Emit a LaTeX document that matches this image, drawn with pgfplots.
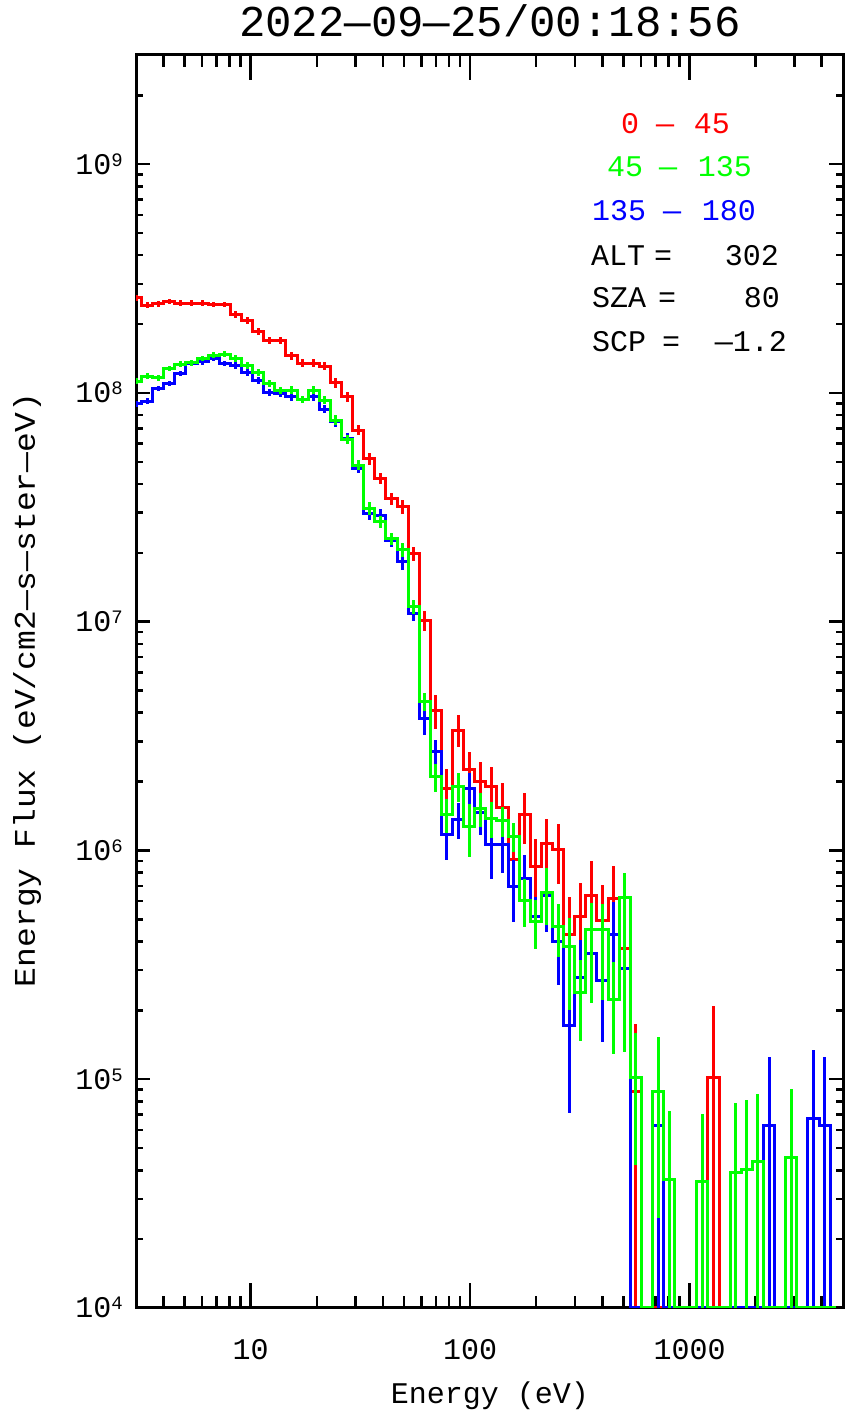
\documentclass[border=0pt]{standalone}
\usepackage{fontspec}
\usepackage{graphicx}
\usepackage{pgfplots}
\pgfplotsset{compat=1.18}
\usepackage{pgfplotstable}
\setmainfont{Liberation Sans}
\newfontfamily\idl{Liberation Mono}
\newcommand{\basefont}{\idl\fontsize{30}{36}\selectfont}
\newcommand{\titlefont}{\idl\fontsize{44}{50}\selectfont}
\newcommand{\ex}[1]{10\raisebox{8pt}{\fontsize{19}{19}\selectfont #1}}

% energy (eV), flux, error plus, error minus ; 0 counts drawn at the axis floor 1e4
\pgfplotstableread{
E F ep em
3.000 2.60e8 7.0e6 7.0e6
3.371 2.42e8 6.5e6 6.5e6
3.788 2.45e8 6.6e6 6.6e6
4.256 2.51e8 6.8e6 6.8e6
4.782 2.47e8 6.7e6 6.7e6
5.373 2.47e8 6.7e6 6.7e6
6.037 2.47e8 6.7e6 6.7e6
6.783 2.44e8 6.6e6 6.6e6
7.621 2.44e8 6.6e6 6.6e6
8.563 2.20e8 7.5e6 7.5e6
9.622 2.08e8 7.1e6 7.1e6
10.81 1.85e8 6.3e6 6.3e6
12.15 1.69e8 5.7e6 5.7e6
13.65 1.69e8 5.7e6 5.7e6
15.34 1.45e8 5.8e6 5.8e6
17.23 1.35e8 5.4e6 5.4e6
19.36 1.35e8 5.4e6 5.4e6
21.76 1.31e8 5.2e6 5.2e6
24.45 1.11e8 5.6e6 5.6e6
27.47 9.6e7 4.8e6 4.8e6
30.86 6.88e7 3.4e6 3.4e6
34.67 5.17e7 3.1e6 3.1e6
38.96 4.23e7 2.5e6 2.5e6
43.78 3.46e7 2.1e6 2.1e6
49.19 3.18e7 2.2e6 2.2e6
55.27 1.99e7 1.4e6 1.4e6
62.10 1.01e7 1.0e6 1.0e6
69.78 4.07e6 6.9e5 6.9e5
78.40 1.87e6 4.1e5 4.1e5
88.09 3.36e6 5.4e5 5.4e5
98.95 2.26e6 4.3e5 4.3e5
111.2 2.01e6 4.2e5 4.2e5
124.9 1.91e6 4.0e5 4.0e5
140.4 1.54e6 4.3e5 4.3e5
157.7 9.17e5 2.75e5 2.75e5
177.2 1.43e6 3.6e5 3.6e5
199.1 8.55e5 2.65e5 2.65e5
223.8 1.07e6 3.0e5 3.0e5
251.4 1.01e6 3.0e5 3.0e5
282.4 4.31e5 1.94e5 1.94e5
317.3 5.12e5 2.1e5 2.1e5
356.6 6.38e5 2.6e5 2.6e5
400.7 4.96e5 2.1e5 2.1e5
450.2 6.19e5 2.4e5 2.4e5
505.9 3.72e5 1.86e5 1.86e5
568.4 8.8e4 8.7e4 87990
638.7 1e4 0 0
717.7 1e4 0 0
806.5 1e4 0 0
906.2 1e4 0 0
1017.7 1e4 0 0
1143.5 1e4 0 0
1284.9 1.02e5 1.07e5 101990
1443.7 1e4 0 0
1622.2 1e4 0 0
1822.8 1e4 0 0
2048.0 1e4 0 0
2301.3 1e4 0 0
2585.2 1e4 0 0
2904.8 1e4 0 0
3263.9 1e4 0 0
3667.2 1e4 0 0
4120.6 1e4 0 0
4630.3 1e4 0 0
}\tabR

\pgfplotstableread{
E F ep em
3.000 1.126e8 3.4e6 3.4e6
3.371 1.184e8 3.6e6 3.6e6
3.788 1.164e8 3.5e6 3.5e6
4.256 1.279e8 3.8e6 3.8e6
4.782 1.336e8 4.0e6 4.0e6
5.373 1.354e8 4.1e6 4.1e6
6.037 1.415e8 4.2e6 4.2e6
6.783 1.463e8 4.4e6 4.4e6
7.621 1.478e8 4.4e6 4.4e6
8.563 1.415e8 5.0e6 5.0e6
9.622 1.323e8 4.6e6 4.6e6
10.81 1.224e8 4.3e6 4.3e6
12.15 1.10e8 3.9e6 3.9e6
13.65 1.028e8 3.6e6 3.6e6
15.34 1.028e8 4.1e6 4.1e6
17.23 9.36e7 3.7e6 3.7e6
19.36 1.028e8 4.1e6 4.1e6
21.76 9.3e7 3.7e6 3.7e6
24.45 7.61e7 3.8e6 3.8e6
27.47 6.26e7 3.1e6 3.1e6
30.86 4.84e7 2.4e6 2.4e6
34.67 3.13e7 1.9e6 1.9e6
38.96 2.73e7 1.6e6 1.6e6
43.78 2.31e7 1.4e6 1.4e6
49.19 2.06e7 1.4e6 1.4e6
55.27 1.16e7 8.1e5 8.1e5
62.10 4.47e6 4.0e5 4.0e5
69.78 2.10e6 2.9e5 2.9e5
78.40 1.43e6 2.4e5 2.4e5
88.09 1.90e6 2.7e5 2.7e5
98.95 1.27e6 3.3e5 3.3e5
111.2 1.53e6 2.6e5 2.6e5
124.9 1.38e6 2.5e5 2.5e5
140.4 1.35e6 2.0e5 2.0e5
157.7 1.15e6 1.7e5 1.7e5
177.2 6.07e5 1.46e5 1.46e5
199.1 4.88e5 1.17e5 1.17e5
223.8 6.53e5 1.83e5 1.83e5
251.4 4.64e5 1.21e5 1.21e5
282.4 3.79e5 1.26e5 1.78e5
317.3 2.39e5 9.2e4 9.2e4
356.6 4.52e5 1.36e5 2.37e5
400.7 4.52e5 1.3e5 2.3e5
450.2 2.22e5 1.04e5 9.3e4
505.9 6.21e5 1.78e5 4.9e5
568.4 1.02e5 5.8e4 6.0e4
638.7 1e4 0 0
717.7 8.82e4 6.4e4 6.35e4
806.5 3.65e4 3.6e4 36490
906.2 1e4 0 0
1017.7 1e4 0 0
1143.5 3.57e4 3.5e4 35690
1284.9 1e4 0 0
1443.7 1e4 0 0
1622.2 3.92e4 3.95e4 39190
1822.8 4.04e4 4.05e4 40390
2048.0 4.35e4 4.3e4 43490
2301.3 1e4 0 0
2585.2 1e4 0 0
2904.8 4.57e4 4.5e4 45690
3263.9 1e4 0 0
3667.2 1e4 0 0
4120.6 1e4 0 0
4630.3 1e4 0 0
}\tabG

\pgfplotstableread{
E F ep em
3.000 8.99e7 2.7e6 2.7e6
3.371 9.21e7 2.8e6 2.8e6
3.788 1.046e8 3.1e6 3.1e6
4.256 1.10e8 3.3e6 3.3e6
4.782 1.216e8 3.6e6 3.6e6
5.373 1.345e8 4.0e6 4.0e6
6.037 1.368e8 4.1e6 4.1e6
6.783 1.415e8 4.2e6 4.2e6
7.621 1.345e8 4.0e6 4.0e6
8.563 1.323e8 4.6e6 4.6e6
9.622 1.224e8 4.3e6 4.3e6
10.81 1.137e8 4.0e6 4.0e6
12.15 1.0e8 3.5e6 3.5e6
13.65 9.95e7 3.5e6 3.5e6
15.34 9.62e7 3.8e6 3.8e6
17.23 9.36e7 3.7e6 3.7e6
19.36 9.62e7 3.8e6 3.8e6
21.76 8.47e7 3.4e6 3.4e6
24.45 7.48e7 3.7e6 3.7e6
27.47 6.35e7 3.2e6 3.2e6
30.86 4.68e7 2.3e6 2.3e6
34.67 2.97e7 1.8e6 1.8e6
38.96 2.92e7 1.75e6 1.75e6
43.78 2.27e7 1.4e6 1.4e6
49.19 1.83e7 1.5e6 1.5e6
55.27 1.09e7 8.7e5 8.7e5
62.10 3.78e6 5.7e5 5.7e5
69.78 2.70e6 3.5e5 3.5e5
78.40 1.17e6 2.6e5 2.6e5
88.09 1.37e6 2.5e5 2.5e5
98.95 1.87e6 3.2e5 3.2e5
111.2 1.46e6 2.9e5 2.9e5
124.9 1.06e6 3.1e5 3.1e5
140.4 1.06e6 2.65e5 2.65e5
157.7 6.99e5 2.1e5 2.1e5
177.2 7.55e5 2.0e5 2.0e5
199.1 5.13e5 1.13e5 1.13e5
223.8 6.38e5 2.0e5 2.0e5
251.4 3.99e5 1.4e5 1.4e5
282.4 1.71e5 8.3e4 1.0e5
317.3 2.78e5 1.28e5 7.7e4
356.6 3.55e5 1.4e5 1.4e5
400.7 2.71e5 1.8e5 1.25e5
450.2 4.30e5 1.67e5 1.8e5
505.9 3.05e5 1.45e5 1.35e5
568.4 1e4 0 0
638.7 1e4 0 0
717.7 6.25e4 6.3e4 62490
806.5 1e4 0 0
906.2 1e4 0 0
1017.7 1e4 0 0
1143.5 1e4 0 0
1284.9 1e4 0 0
1443.7 1e4 0 0
1622.2 1e4 0 0
1822.8 1e4 0 0
2048.0 1e4 0 0
2301.3 6.25e4 6.2e4 62490
2585.2 1e4 0 0
2904.8 1e4 0 0
3263.9 1e4 0 0
3667.2 6.75e4 6.7e4 67490
4120.6 6.25e4 6.2e4 62490
4630.3 1e4 0 0
}\tabB

\begin{document}
\begin{tikzpicture}
% axis carrying the x ticks (IDL: longer ticks on the x axis)
\begin{axis}[
  at={(0,0)}, anchor=south west,
  scale only axis, width=707pt, height=1253pt,
  xmode=log, ymode=log, xmin=3, xmax=5000, ymin=1e4, ymax=3e9,
  axis line style={line width=3pt, black},
  tick style={line width=2.5pt, black},
  tick align=inside,
  major tick length=25pt, minor tick length=12.5pt,
  ytick=\empty, yminorticks=false,
  xtick={10,100,1000}, xticklabels={10,100,1000},
  minor xtick={4,5,6,7,8,9,20,30,40,50,60,70,80,90,200,300,400,500,600,700,800,900,2000,3000,4000},
  xticklabel style={font=\basefont, anchor=base, inner sep=0pt, yshift=-52pt},
]
\addplot[draw=none, forget plot] coordinates {(10,1e5)};
\end{axis}
% axis carrying the y ticks and the data
\begin{axis}[
  at={(0,0)}, anchor=south west,
  scale only axis, width=707pt, height=1253pt,
  xmode=log, ymode=log, xmin=3, xmax=5000, ymin=1e4, ymax=3e9,
  axis line style={line width=3pt, black},
  tick style={line width=2.5pt, black},
  tick align=inside,
  major tick length=14pt, minor tick length=7pt,
  xtick=\empty, xminorticks=false,
  ytick={1e4,1e5,1e6,1e7,1e8,1e9},
  yticklabels={\ex{4},\ex{5},\ex{6},\ex{7},\ex{8},\ex{9}},
  minor ytick={2e4,3e4,4e4,5e4,6e4,7e4,8e4,9e4,2e5,3e5,4e5,5e5,6e5,7e5,8e5,9e5,2e6,3e6,4e6,5e6,6e6,7e6,8e6,9e6,2e7,3e7,4e7,5e7,6e7,7e7,8e7,9e7,2e8,3e8,4e8,5e8,6e8,7e8,8e8,9e8,2e9},
  yticklabel style={font=\basefont, anchor=base east, inner sep=0pt, xshift=-13pt, yshift=-10pt},
]
\addplot[const plot mark mid, red, line width=3pt,
  error bars/.cd, y dir=both, y explicit, error mark=none,
  error bar style={line width=3pt, red}]
  table[x=E, y=F, y error plus=ep, y error minus=em] {\tabR};
\addplot[const plot mark mid, blue, line width=3pt,
  error bars/.cd, y dir=both, y explicit, error mark=none,
  error bar style={line width=3pt, blue}]
  table[x=E, y=F, y error plus=ep, y error minus=em] {\tabB};
\addplot[const plot mark mid, green, line width=3pt,
  error bars/.cd, y dir=both, y explicit, error mark=none,
  error bar style={line width=3pt, green}]
  table[x=E, y=F, y error plus=ep, y error minus=em] {\tabG};
\end{axis}
% texts, placed in the reference's pixel frame (origin top-left, y down)
\begin{scope}[shift={(-136pt,1308pt)}, x=1pt, y=-1pt, every node/.style={inner sep=0pt, outer sep=0pt}]
\node[font=\titlefont, anchor=base] at (490,37) {2022—09—25/00:18:56};
\node[font=\basefont, anchor=base] at (490,1403) {Energy (eV)};
\node[font=\basefont, anchor=base, rotate=90] at (35,690) {\scalebox{1.1}[1]{Energy Flux (eV/cm2—s—ster—eV)}};
\node[font=\basefont, text=red, anchor=base west] at (621,134) {0};
\node[font=\basefont, text=red, anchor=base west] at (656,134) {—};
\node[font=\basefont, text=red, anchor=base east] at (730,134) {45};
\node[font=\basefont, text=green, anchor=base west] at (607,177) {45};
\node[font=\basefont, text=green, anchor=base west] at (659,177) {—};
\node[font=\basefont, text=green, anchor=base east] at (752,177) {135};
\node[font=\basefont, text=blue, anchor=base west] at (592,221) {135};
\node[font=\basefont, text=blue, anchor=base west] at (663,221) {—};
\node[font=\basefont, text=blue, anchor=base east] at (756,221) {180};
\node[font=\basefont, anchor=base west] at (591,266) {ALT};
\node[font=\basefont, anchor=base west] at (654,266) {=};
\node[font=\basefont, anchor=base east] at (779,266) {302};
\node[font=\basefont, anchor=base west] at (592,308) {SZA};
\node[font=\basefont, anchor=base west] at (658,308) {=};
\node[font=\basefont, anchor=base east] at (780,308) {80};
\node[font=\basefont, anchor=base west] at (592,352) {SCP};
\node[font=\basefont, anchor=base west] at (662,352) {=};
\node[font=\basefont, anchor=base east] at (787,352) {—1.2};
\end{scope}
\pgfresetboundingbox
\path[use as bounding box] (-136pt,-117pt) rectangle (722pt,1308pt);
\end{tikzpicture}
\end{document}
